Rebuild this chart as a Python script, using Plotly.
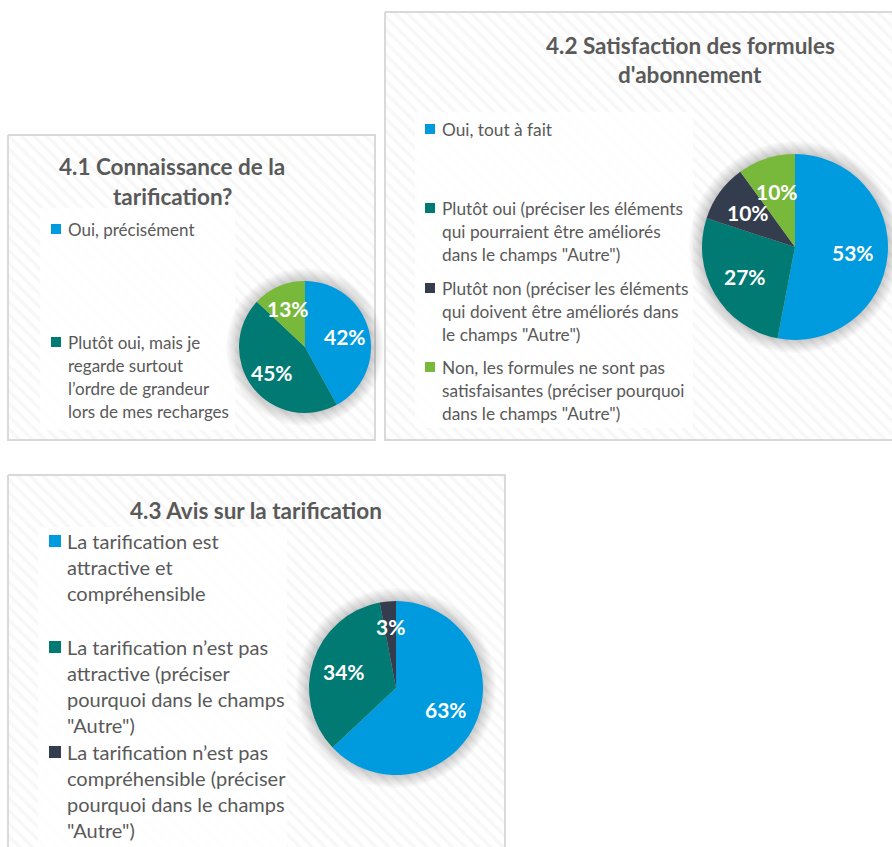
import numpy as np
import plotly.graph_objects as go

W, H = 892, 847

# ---------------- data ----------------
c1_title = "4.1 Connaissance de la<br>tarification?"
c1_labels = ["Oui, précisément",
             "Plutôt oui, mais je<br>regarde surtout<br>l’ordre de grandeur<br>lors de mes recharges",
             "Non"]
c1_values = [42, 45, 13]
c1_legend_shown = [True, True, False]

c2_title = "4.2 Satisfaction des formules<br>d'abonnement"
c2_labels = ["Oui, tout à fait",
             "Plutôt oui (préciser les éléments<br>qui pourraient être améliorés<br>dans le champs \"Autre\")",
             "Plutôt non (préciser les éléments<br>qui doivent être améliorés dans<br>le champs \"Autre\")",
             "Non, les formules ne sont pas<br>satisfaisantes (préciser pourquoi<br>dans le champs \"Autre\")"]
c2_values = [53, 27, 10, 10]
c2_legend_shown = [True, True, True, True]

c3_title = "4.3 Avis sur la tarification"
c3_labels = ["La tarification est<br>attractive et<br>compréhensible",
             "La tarification n’est pas<br>attractive (préciser<br>pourquoi dans le champs<br>\"Autre\")",
             "La tarification n’est pas<br>compréhensible (préciser<br>pourquoi dans le champs<br>\"Autre\")"]
c3_values = [63, 34, 3]
c3_legend_shown = [True, True, True]

# ---------------- style ----------------
BLUE, TEAL, DARK, GREEN = "#009BDE", "#007A72", "#333D4E", "#78B83A"
c1_colors = [BLUE, TEAL, GREEN]
c2_colors = [BLUE, TEAL, DARK, GREEN]
c3_colors = [BLUE, TEAL, DARK]
TXT = "#595959"
FONT = "Lato"

panels = [
    dict(title=c1_title, labels=c1_labels, values=c1_values, colors=c1_colors, shown=c1_legend_shown,
         box=(8, 135, 375, 440), title_x=172, title_y=[166, 196], title_size=22.5,
         legbox=(40, 208, 235, 430), item_y=[229, 342], line_gap=23.3, sq=10, sq_x=51, text_x=66, leg_size=17,
         pie_c=(305, 347), pie_r=66),
    dict(title=c2_title, labels=c2_labels, values=c2_values, colors=c2_colors, shown=c2_legend_shown,
         box=(385, 12, 900, 440), title_x=690, title_y=[45, 74], title_size=22.5,
         legbox=(415, 112, 693, 428), item_y=[129, 208, 288, 367], line_gap=23, sq=10, sq_x=425, text_x=440, leg_size=17.3,
         pie_c=(795, 247), pie_r=93),
    dict(title=c3_title, labels=c3_labels, values=c3_values, colors=c3_colors, shown=c3_legend_shown,
         box=(8, 475, 505, 860), title_x=256, title_y=[510], title_size=22.5,
         legbox=(38, 527, 287, 847), item_y=[541, 647, 752], line_gap=26, sq=12, sq_x=49, text_x=65, leg_size=20,
         pie_c=(396, 688), pie_r=87),
]

fig = go.Figure()
shapes, annotations = [], []

# panel backgrounds (hatched)
for p in panels:
    x0, y0, x1, y1 = p["box"]
    fig.add_trace(go.Scatter(
        x=[x0, x1, x1, x0, x0], y=[y0, y0, y1, y1, y0], mode="lines", fill="toself",
        fillcolor="white",
        fillpattern=dict(shape="\\", size=9, solidity=0.4, fgcolor="#f0f0f0", bgcolor="white"),
        line=dict(color="#d9d9d9", width=2), hoverinfo="skip", showlegend=False))
    # legend area (lighter)
    lx0, ly0, lx1, ly1 = p["legbox"]
    fig.add_trace(go.Scatter(
        x=[lx0, lx1, lx1, lx0, lx0], y=[ly0, ly0, ly1, ly1, ly0], mode="lines", fill="toself",
        fillcolor="rgba(255,255,255,0.8)", line=dict(width=0), hoverinfo="skip", showlegend=False))
    # soft shadow around pie
    cx, cy = p["pie_c"]
    r = p["pie_r"]
    th = np.linspace(0, 2 * np.pi, 120)
    for k in range(10, 0, -1):
        rr = r + k * 1.3
        fig.add_trace(go.Scatter(
            x=cx + rr * np.cos(th), y=cy + rr * np.sin(th), mode="lines", fill="toself",
            fillcolor="rgba(0,0,0,0.018)", line=dict(width=0), hoverinfo="skip", showlegend=False))

# pies, titles, legends, labels
for p in panels:
    cx, cy = p["pie_c"]
    r = p["pie_r"]
    fig.add_trace(go.Pie(
        labels=p["labels"], values=p["values"], sort=False, direction="clockwise", rotation=0,
        marker=dict(colors=p["colors"], line=dict(width=0)),
        textinfo="none", hoverinfo="label+percent", showlegend=False,
        domain=dict(x=[(cx - r) / W, (cx + r) / W], y=[1 - (cy + r) / H, 1 - (cy - r) / H])))

    # slice labels from values
    tot = float(sum(p["values"]))
    cum = 0.0
    for v in p["values"]:
        mid = (cum + v / 2) / tot * 2 * np.pi
        cum += v
        d = 0.63 * r if v / tot > 0.05 else 0.71 * r
        annotations.append(dict(
            x=cx + d * np.sin(mid), y=cy - d * np.cos(mid), xref="x", yref="y",
            text="<b>%d%%</b>" % v, showarrow=False,
            font=dict(family=FONT, size=21, color="white"), xanchor="center", yanchor="middle"))

    # title
    for ln, ty in zip(p["title"].split("<br>"), p["title_y"]):
        annotations.append(dict(x=p["title_x"], y=ty, xref="x", yref="y", text="<b>%s</b>" % ln,
                                showarrow=False, font=dict(family=FONT, size=p["title_size"], color=TXT),
                                xanchor="center", yanchor="middle"))

    # legend
    items = [(lab, col) for lab, col, s in zip(p["labels"], p["colors"], p["shown"]) if s]
    for (lab, col), iy in zip(items, p["item_y"]):
        s = p["sq"]
        shapes.append(dict(type="rect", xref="x", yref="y", x0=p["sq_x"], x1=p["sq_x"] + s,
                           y0=iy - s / 2, y1=iy + s / 2, fillcolor=col, line=dict(width=0), layer="above"))
        for j, ln in enumerate(lab.split("<br>")):
            annotations.append(dict(x=p["text_x"], y=iy + j * p["line_gap"], xref="x", yref="y", text=ln,
                                    showarrow=False, font=dict(family=FONT, size=p["leg_size"], color=TXT),
                                    xanchor="left", yanchor="middle"))

fig.update_layout(
    width=W, height=H, margin=dict(l=0, r=0, t=0, b=0),
    paper_bgcolor="white", plot_bgcolor="rgba(0,0,0,0)",
    xaxis=dict(range=[0, W], visible=False, fixedrange=True, domain=[0, 1]),
    yaxis=dict(range=[H, 0], visible=False, fixedrange=True, domain=[0, 1]),
    shapes=shapes, annotations=annotations, showlegend=False,
)

fig.write_html("out.html")
